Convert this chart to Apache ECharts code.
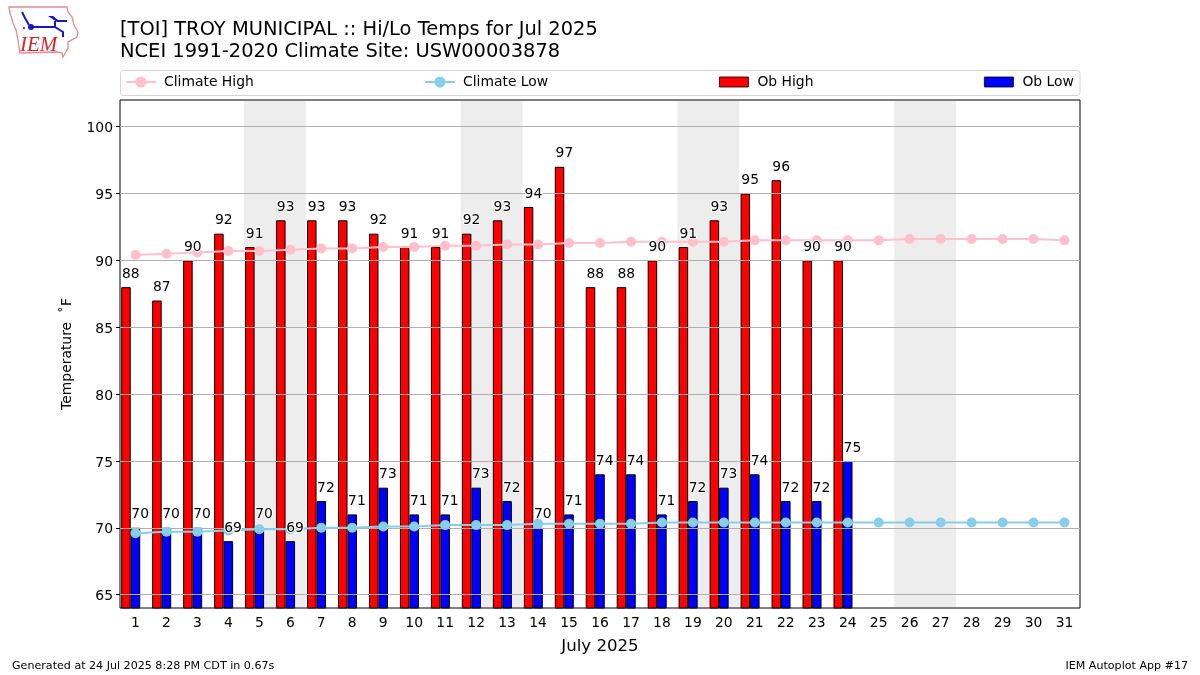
<!DOCTYPE html>
<html>
<head>
<meta charset="utf-8">
<title>TOI Hi/Lo Temps</title>
<style>
  html, body { margin: 0; padding: 0; background: #fff; }
  #chart { width: 1200px; height: 675px; }
</style>
<script src="https://cdn.jsdelivr.net/npm/echarts@6/dist/echarts.min.js"></script>
</head>
<body>
<div id="chart"></div>
<script>
(() => {
  "use strict";

  const FONT = '"DejaVu Sans", sans-serif';
  const days = Array.from({ length: 31 }, (_, i) => String(i + 1));
  const weekendStarts = [5, 12, 19, 26];

  const obHigh = [88, 87, 90, 92, 91, 93, 93, 93, 92, 91, 91, 92, 93, 94, 97, 88, 88, 90, 91, 93, 95, 96, 90, 90];
  const obLow = [70, 70, 70, 69, 70, 69, 72, 71, 73, 71, 71, 73, 72, 70, 71, 74, 74, 71, 72, 73, 74, 72, 72, 75];
  const climateHigh = [90.4, 90.5, 90.6, 90.7, 90.7, 90.8, 90.9, 90.9, 91.0, 91.0, 91.1, 91.1, 91.2, 91.2, 91.3, 91.3,
    91.4, 91.4, 91.4, 91.4, 91.5, 91.5, 91.5, 91.5, 91.5, 91.6, 91.6, 91.6, 91.6, 91.6, 91.5];
  const climateLow = [69.6, 69.7, 69.7, 69.8, 69.9, 69.9, 70.0, 70.0, 70.1, 70.1, 70.2, 70.2, 70.2, 70.3, 70.3, 70.3,
    70.3, 70.4, 70.4, 70.4, 70.4, 70.4, 70.4, 70.4, 70.4, 70.4, 70.4, 70.4, 70.4, 70.4, 70.4];

  const BAR_WIDTH = 9.5;
  const yTicks = [65, 70, 75, 80, 85, 90, 95, 100];

  function legendAt(name, left, extra) {
    return Object.assign({
      data: [name],
      left,
      top: 75,
      itemWidth: 30,
      itemHeight: 10,
      padding: 0,
      selectedMode: false,
      textStyle: { fontFamily: FONT, fontSize: 13.9, color: "#000", padding: [0, 0, 0, 3] }
    }, extra);
  }

  const lineLegend = { itemHeight: 14 };
  const barLegend = {
    icon: "rect",
    itemWidth: 29,
    itemStyle: { borderWidth: 0.8 },
    textStyle: { fontFamily: FONT, fontSize: 13.9, color: "#000", padding: [0, 0, 0, 4] }
  };

  // scatter defaults to 0.8 opacity, which would grey the labels
  function labelSeries(values, shift) {
    return {
      type: "scatter",
      data: values,
      symbolSize: 0,
      silent: true,
      z: 6,
      itemStyle: { opacity: 1 },
      label: {
        show: true,
        position: "top",
        distance: 6,
        offset: [shift, 0],
        fontFamily: FONT,
        fontSize: 13.9,
        color: "#000",
        textBorderColor: "#fff",
        textBorderWidth: 2
      }
    };
  }

  function climateSeries(name, values, color) {
    return {
      name,
      type: "line",
      data: values,
      symbol: "circle",
      symbolSize: 10,
      showAllSymbol: true,
      z: 4,
      lineStyle: { color, width: 2 },
      itemStyle: { color }
    };
  }

  function obSeries(name, values, color) {
    return {
      name,
      type: "bar",
      data: values,
      barWidth: BAR_WIDTH,
      barGap: 0,
      z: 1,
      itemStyle: { color, borderColor: "#000", borderWidth: 1 }
    };
  }

  const logoStroke = { stroke: "#e58a8f", lineWidth: 1.3, fill: "none" };
  const logoBlue = { stroke: "#1414d2", lineWidth: 2, fill: "none" };

  const chart = echarts.init(document.getElementById("chart"), null, { renderer: "canvas" });
  chart.setOption({
    animation: false,
    backgroundColor: "#fff",
    textStyle: { fontFamily: FONT },
    title: [
      {
        text: "[TOI] TROY MUNICIPAL :: Hi/Lo Temps for Jul 2025\nNCEI 1991-2020 Climate Site: USW00003878",
        left: 120,
        top: 19,
        padding: 0,
        textStyle: { fontFamily: FONT, fontSize: 19.45, fontWeight: "normal", color: "#000", lineHeight: 22 }
      },
      {
        text: "Generated at 24 Jul 2025 8:28 PM CDT in 0.67s",
        left: 12,
        top: 661,
        padding: 0,
        textStyle: { fontFamily: FONT, fontSize: 11.1, fontWeight: "normal", color: "#000" }
      },
      {
        text: "IEM Autoplot App #17",
        right: 12,
        top: 661,
        padding: 0,
        textStyle: { fontFamily: FONT, fontSize: 11.1, fontWeight: "normal", color: "#000" }
      }
    ],
    legend: [
      legendAt("Climate High", 125, lineLegend),
      legendAt("Climate Low", 424, lineLegend),
      legendAt("Ob High", 719, barLegend),
      legendAt("Ob Low", 984, barLegend)
    ],
    grid: { left: 120, right: 120, top: 100, bottom: 67, show: true, borderColor: "#000", borderWidth: 1, backgroundColor: "transparent" },
    xAxis: {
      type: "category",
      data: days,
      z: 2,
      name: "July 2025",
      nameLocation: "middle",
      nameGap: 30,
      nameTextStyle: { fontFamily: FONT, fontSize: 16.6, color: "#000" },
      axisLine: { show: false },
      axisTick: { alignWithLabel: true, length: 4, lineStyle: { color: "#000" } },
      axisLabel: { interval: 0, margin: 8, fontFamily: FONT, fontSize: 13.9, color: "#000" },
      splitLine: { show: false }
    },
    yAxis: {
      type: "value",
      min: 64,
      max: 102,
      z: 2,
      name: "Temperature  ˚F",
      nameLocation: "middle",
      nameGap: 46,
      nameTextStyle: { fontFamily: FONT, fontSize: 13.9, color: "#000" },
      axisLine: { show: false },
      axisTick: { show: true, length: 4, lineStyle: { color: "#000" }, customValues: yTicks },
      axisLabel: {
        margin: 7,
        customValues: yTicks,
        formatter: (v) => `{t|${v}}`,
        rich: { t: { fontFamily: FONT, fontSize: 13.9, color: "#000", padding: [4, 0, 0, 0] } }
      },
      splitLine: { show: true, lineStyle: { color: "#b0b0b0", width: 1 } }
    },
    series: [
      {
        type: "custom",
        data: weekendStarts.map((d) => [d - 1]),
        silent: true,
        z: 0,
        renderItem(params, api) {
          const x = api.coord([api.value(0), 64])[0];
          const band = api.size([1, 0])[0];
          return {
            type: "rect",
            shape: { x: x - band / 2, y: params.coordSys.y + 1, width: band * 2, height: params.coordSys.height - 2 },
            style: { fill: "#ededed" }
          };
        }
      },
      obSeries("Ob High", obHigh, "#ff0000"),
      obSeries("Ob Low", obLow, "#0000ff"),
      // empty third slot pushes the pair left of the tick
      obSeries("spacer", [], "#ffffff"),
      climateSeries("Climate High", climateHigh, "#ffc0cb"),
      climateSeries("Climate Low", climateLow, "#87ceeb"),
      labelSeries(obHigh, -4.65),
      labelSeries(obLow, 4.65)
    ],
    graphic: [
      {
        type: "rect",
        z: -1,
        shape: { x: 120.5, y: 70.5, width: 959.5, height: 25, r: 3 },
        style: { fill: "#fff", stroke: "#d5d5d5", lineWidth: 1 }
      },
      // IEM logo
      {
        type: "polygon",
        shape: { points: [[9, 7], [67, 7], [68, 12], [72, 17], [74, 25], [78, 32], [77, 37], [68, 42], [68, 48], [63, 57], [62, 53], [57, 52], [20, 53], [18, 40], [16, 30], [13, 23], [10, 13]] },
        style: logoStroke
      },
      { type: "polyline", shape: { points: [[31, 27], [55, 27], [55, 21]] }, style: logoBlue },
      { type: "polyline", shape: { points: [[22, 12], [25, 18], [29, 25]] }, style: logoBlue },
      { type: "polyline", shape: { points: [[55, 27], [63, 32], [63, 37]] }, style: logoBlue },
      { type: "polygon", shape: { points: [[48, 16], [53, 16], [58, 20], [67, 20], [67, 22], [57, 22]] }, style: { fill: "#1414d2" } },
      { type: "circle", shape: { cx: 31, cy: 27, r: 3 }, style: { fill: "#1414d2" } },
      { type: "circle", shape: { cx: 24, cy: 28, r: 1 }, style: { fill: "#1414d2" } },
      { type: "text", left: 20, top: 35, style: { text: "IEM", fontFamily: '"Liberation Serif", serif', fontStyle: "italic", fontSize: 21, fill: "#d9252c" } }
    ]
  });
})();
</script>
</body>
</html>
